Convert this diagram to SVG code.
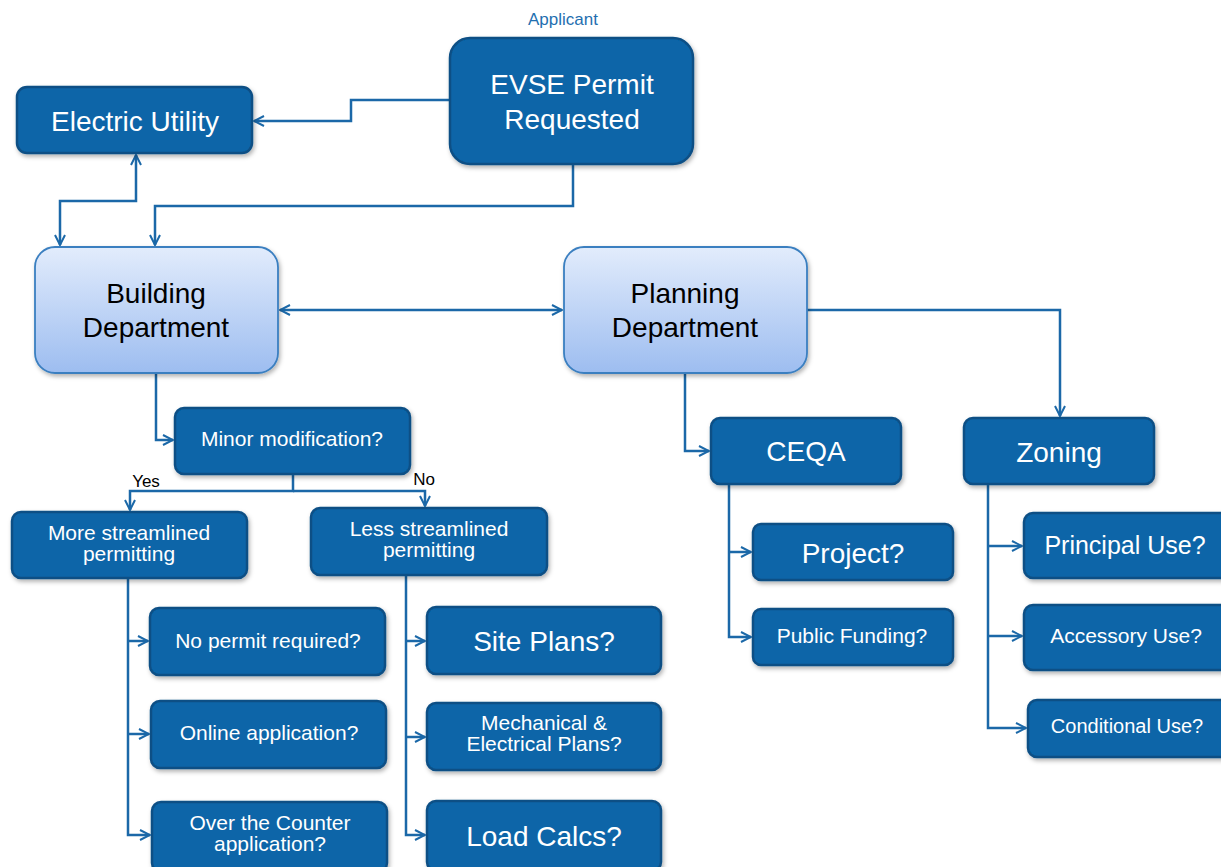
<svg xmlns="http://www.w3.org/2000/svg" width="1221" height="867" viewBox="0 0 1221 867">
<defs>
<linearGradient id="lg" x1="0" y1="0" x2="0" y2="1">
<stop offset="0" stop-color="#e2ecfc"/>
<stop offset="1" stop-color="#9dbdf0"/>
</linearGradient>
<filter id="sh" x="-10%" y="-10%" width="125%" height="130%">
<feDropShadow dx="1.5" dy="2.5" stdDeviation="2" flood-color="#000" flood-opacity="0.3"/>
</filter>
<marker id="ar" viewBox="0 0 12 12" refX="11" refY="6" markerWidth="12" markerHeight="12" markerUnits="userSpaceOnUse" orient="auto-start-reverse">
<path d="M1,1 L11,6 L1,11" fill="none" stroke="#1b68a8" stroke-width="2"/>
</marker>
</defs>
<style>
.d{fill:#0765a8;stroke:#0c4f85;stroke-width:2.5;filter:url(#sh)}
.l{fill:url(#lg);stroke:#3a7fc0;stroke-width:1.8;filter:url(#sh)}
text{font-family:"Liberation Sans",Arial,sans-serif;text-anchor:middle}
.w{fill:#fff}
.k{fill:#000}
.c{fill:none;stroke:#1b68a8;stroke-width:2.5}
</style>
<rect width="1221" height="867" fill="#fff"/>
<g id="connectors">
<polyline class="c" points="450,100 351,100 351,121 254,121" marker-end="url(#ar)"/>
<polyline class="c" points="573,164 573,206 155,206 155,245" marker-end="url(#ar)"/>
<polyline class="c" points="136,155 136,201 60,201 60,245" marker-start="url(#ar)" marker-end="url(#ar)"/>
<line class="c" x1="280" y1="310" x2="562" y2="310" marker-start="url(#ar)" marker-end="url(#ar)"/>
<polyline class="c" points="156,373 156,440 173,440" marker-end="url(#ar)"/>
<polyline class="c" points="293,474 293,491 130,491 130,510" marker-end="url(#ar)"/>
<polyline class="c" points="293,491 425,491 425,506" marker-end="url(#ar)"/>
<polyline class="c" points="128,578 128,835 150,835" marker-end="url(#ar)"/>
<polyline class="c" points="128,641 148,641" marker-end="url(#ar)"/>
<polyline class="c" points="128,734 149,734" marker-end="url(#ar)"/>
<polyline class="c" points="406,575 406,835 425,835" marker-end="url(#ar)"/>
<polyline class="c" points="406,641 425,641" marker-end="url(#ar)"/>
<polyline class="c" points="406,737 425,737" marker-end="url(#ar)"/>
<polyline class="c" points="685,373 685,451 709,451" marker-end="url(#ar)"/>
<polyline class="c" points="807,310 1060,310 1060,416" marker-end="url(#ar)"/>
<polyline class="c" points="729,484 729,637 751,637" marker-end="url(#ar)"/>
<polyline class="c" points="729,552 751,552" marker-end="url(#ar)"/>
<polyline class="c" points="988,484 988,728 1026,728" marker-end="url(#ar)"/>
<polyline class="c" points="988,546 1022,546" marker-end="url(#ar)"/>
<polyline class="c" points="988,636 1022,636" marker-end="url(#ar)"/>
</g>
<g id="labels">
<text x="563" y="25" font-size="17" fill="#1f6fb0">Applicant</text>
<text x="146" y="487" font-size="17" class="k">Yes</text>
<text x="424" y="485" font-size="17" class="k">No</text>
</g>
<g id="evse"><rect class="d" x="450" y="38" width="243" height="126" rx="20"/>
<text class="w" font-size="28" x="572" y="94">EVSE Permit</text><text class="w" font-size="28" x="572" y="129">Requested</text></g>
<g id="electric-utility"><rect class="d" x="17" y="87" width="235" height="66" rx="10"/>
<text class="w" font-size="28" x="135" y="131">Electric Utility</text></g>
<g id="building"><rect class="l" x="35" y="247" width="243" height="126" rx="20"/>
<text class="k" font-size="28" x="156" y="303">Building</text><text class="k" font-size="28" x="156" y="337">Department</text></g>
<g id="planning"><rect class="l" x="564" y="247" width="243" height="126" rx="20"/>
<text class="k" font-size="28" x="685" y="303">Planning</text><text class="k" font-size="28" x="685" y="337">Department</text></g>
<g id="minor"><rect class="d" x="175" y="408" width="235" height="66" rx="9"/>
<text class="w" font-size="21" x="292" y="446">Minor modification?</text></g>
<g id="more"><rect class="d" x="12" y="512" width="235" height="66" rx="9"/>
<text class="w" font-size="21" x="129" y="540">More streamlined</text><text class="w" font-size="21" x="129" y="561">permitting</text></g>
<g id="less"><rect class="d" x="311" y="508" width="236" height="67" rx="9"/>
<text class="w" font-size="21" x="429" y="536">Less streamlined</text><text class="w" font-size="21" x="429" y="557">permitting</text></g>
<g id="no-permit"><rect class="d" x="150" y="608" width="235" height="67" rx="9"/>
<text class="w" font-size="21" x="268" y="648">No permit required?</text></g>
<g id="online"><rect class="d" x="151" y="701" width="235" height="67" rx="9"/>
<text class="w" font-size="21" x="269" y="740">Online application?</text></g>
<g id="counter"><rect class="d" x="152" y="802" width="235" height="70" rx="9"/>
<text class="w" font-size="21" x="270" y="830">Over the Counter</text><text class="w" font-size="21" x="270" y="851">application?</text></g>
<g id="site"><rect class="d" x="427" y="607" width="234" height="67" rx="9"/>
<text class="w" font-size="28" x="544" y="651">Site Plans?</text></g>
<g id="mech"><rect class="d" x="427" y="703" width="234" height="67" rx="9"/>
<text class="w" font-size="21" x="544" y="730">Mechanical &amp;</text><text class="w" font-size="21" x="544" y="751">Electrical Plans?</text></g>
<g id="load"><rect class="d" x="427" y="801" width="234" height="70" rx="9"/>
<text class="w" font-size="28" x="544" y="846">Load Calcs?</text></g>
<g id="ceqa"><rect class="d" x="711" y="418" width="190" height="66" rx="9"/>
<text class="w" font-size="28" x="806" y="461">CEQA</text></g>
<g id="zoning"><rect class="d" x="964" y="418" width="190" height="66" rx="9"/>
<text class="w" font-size="28" x="1059" y="462">Zoning</text></g>
<g id="project"><rect class="d" x="753" y="524" width="200" height="56" rx="8"/>
<text class="w" font-size="28" x="853" y="563">Project?</text></g>
<g id="funding"><rect class="d" x="753" y="609" width="200" height="56" rx="8"/>
<text class="w" font-size="21" x="852" y="643">Public Funding?</text></g>
<g id="principal"><rect class="d" x="1024" y="513" width="210" height="65" rx="9"/>
<text class="w" font-size="25" x="1125" y="554">Principal Use?</text></g>
<g id="accessory"><rect class="d" x="1024" y="605" width="210" height="65" rx="9"/>
<text class="w" font-size="21" x="1126" y="643">Accessory Use?</text></g>
<g id="conditional"><rect class="d" x="1028" y="700" width="206" height="57" rx="9"/>
<text class="w" font-size="20" x="1127" y="733">Conditional Use?</text></g>
</svg>
